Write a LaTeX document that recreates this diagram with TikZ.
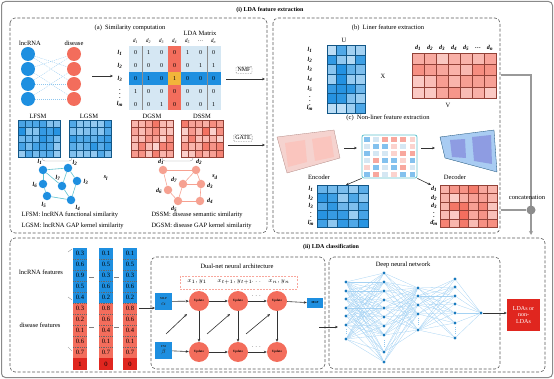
\documentclass[tikz,border=0pt]{standalone}
\usepackage{fontspec}
\setmainfont{Liberation Serif}
\usepackage{amsmath}
\usetikzlibrary{arrows.meta,positioning,calc}

\definecolor{ldablue}{HTML}{1E8FE0}
\definecolor{ldared}{HTML}{F36D5C}
\definecolor{ldapale}{HTML}{D5E7F3}
\definecolor{ldayellow}{HTML}{F2B53A}
\definecolor{ldadark}{HTML}{E0261F}
\definecolor{ldasalmon}{HTML}{F6A191}
\definecolor{ldateal}{HTML}{5EC2CE}
\definecolor{framegray}{HTML}{8A8A8A}
\definecolor{pinkenc}{HTML}{F5D3CF}
\definecolor{bluedec}{HTML}{A9CCF2}
\definecolor{violetdec}{HTML}{8E9CE2}

\newcommand{\lbl}[2]{#1\textsubscript{#2}}

\tikzset{
  ttl/.style={font=\bfseries\fontsize{6}{7}\selectfont},
  sub/.style={font=\fontsize{6.5}{7}\selectfont},
  dashbox/.style={draw=black!65, dash pattern=on 3pt off 1.8pt, line width=0.6pt, rounded corners=5pt},
  arr/.style={-{Stealth[length=3pt,width=2.6pt]}, line width=0.6pt, black!80},
  lab/.style={font=\fontsize{6}{6}\selectfont\bfseries\itshape, inner sep=0.5pt},
  cellnum/.style={font=\fontsize{6}{7}\selectfont, inner sep=0},
  bip/.style={circle, minimum size=14pt, inner sep=0},
  biline/.style={ldablue!50, dash pattern=on 1pt off 1pt, line width=0.35pt},
  gnode/.style={circle, minimum size=8.5pt, inner sep=0},
  opbox/.style={draw=black!55, dash pattern=on 1.5pt off 1pt, rounded corners=1pt, inner sep=1.5pt, font=\fontsize{6}{7}\selectfont},
  upd/.style={circle, fill=ldared, minimum size=20pt, inner sep=0, font=\bfseries\fontsize{3.2}{3}\selectfont},
  mlpbox/.style={fill=ldablue, minimum size=17pt, inner sep=0, align=center, text=black!85},
  dnn/.style={circle, fill=ldablue!85!black, minimum size=3.2pt, inner sep=0},
  nnline/.style={ldablue!40, line width=0.3pt},
  catline/.style={black!40, line width=1.6pt},
  vals/.style={font=\fontsize{6.5}{7}\selectfont, inner sep=0}
}

% random shaded grid: x0, y0, cols, rows, cell w, cell h, colour, low shade, spread
\newcommand{\heatmap}[9]{%
  \foreach \hi in {1,...,#3}{\foreach \hj in {1,...,#4}{%
    \pgfmathtruncatemacro{\hs}{#8+#9*rnd}%
    \filldraw[fill=#7!\hs, draw=#7!60!black, line width=0.15pt]
      ({#1+(\hi-1)*#5},{#2+(\hj-1)*#6}) rectangle ++(#5,#6);
  }}%
}

\begin{document}
\begin{tikzpicture}[x=1pt,y=-1pt,font=\fontsize{6}{7}\selectfont]
\useasboundingbox (0,0) rectangle (554,379);
\pgfmathsetseed{11}

% Frames
\draw[framegray,line width=1pt,rounded corners=4pt] (1.5,1.5) rectangle (552.5,377.5);
\node[ttl] (ttlI) at (270,10) {(i) LDA feature extraction};
\draw[dashbox] (10,18) rectangle (267,233);
\draw[dashbox] (273,18) rectangle (500,233);
\draw[dashbox] (10,238) rectangle (545,372);
\node[ttl] (ttlII) at (331,247) {(ii) LDA classification};

% (a) Similarity computation
\node[sub] (ttlA) at (130,28) {(a)\ \ Similarity computation};
\node[sub] (lncT) at (30,43) {lncRNA};
\node[sub] (disT) at (74,43) {disease};
\foreach \y [count=\k] in {54,69,84,99} {
  \node[bip,fill=ldablue] (lb\k) at (28,\y) {};
  \node[bip,fill=ldared] (db\k) at (74,\y) {};
}
\foreach \a/\b in {1/2,1/3,2/1,2/4,3/1,3/3,4/2,4/4}
  \draw[biline] (lb\a) -- (db\b);
\coordinate (bipOut) at (92,76);
\coordinate (matIn) at (113,76);
\draw[arr] (bipOut) -- (matIn);

% LDA matrix
\node[sub] (ldaT) at (200,33) {LDA Matrix};
\fill[ldapale] (129,46.5) rectangle (221,110.5);
\fill[ldablue] (129,72.5) rectangle (221,85);
\fill[ldared] (168,46.5) rectangle (181,110.5);
\fill[ldayellow] (168,72.5) rectangle (181,85);
\draw[black!45,line width=0.3pt] (142,46.5) -- (142,110.5) (207,46.5) -- (207,110.5);
\foreach \row [count=\r] in {{0,1,0,0,1,0,0},{0,0,0,0,0,1,1},{0,1,0,1,0,0,0},{1,0,0,0,0,0,0},{0,0,1,0,0,0,1}}
  \foreach \v [count=\c] in \row
    \node[cellnum] (m\r-\c) at ({122.5+13*\c},{40.2+12.8*\r}) {\v};
\foreach \t [count=\r] in {\lbl{l}{1},\lbl{l}{2},\lbl{l}{3},$\vdots$,\lbl{l}{m}}
  \node[lab] (ml\r) at (120,{40.2+12.8*\r}) {\t};
\foreach \t [count=\c] in {\lbl{d}{1},\lbl{d}{2},\lbl{d}{3},\lbl{d}{4},\lbl{d}{5},\ldots,\lbl{d}{n}}
  \node[lab,font=\fontsize{5.5}{6}\selectfont\itshape] (mh\c) at ({122.5+13*\c},41) {\t};

% NMF
\node[opbox] (nmf) at (244,70) {NMF};
\coordinate (nmfA) at (226,79);
\coordinate (nmfB) at (265,79);
\draw[arr] (nmfA) -- (nmfB);

% similarity matrices
\node[sub] (lfsmT) at (38,116) {LFSM};
\node[sub] (lgsmT) at (89,116) {LGSM};
\node[sub] (dgsmT) at (152,116) {DGSM};
\node[sub] (dssmT) at (202,116) {DSSM};
\heatmap{18}{120}{6}{5}{7}{7.4}{ldablue}{45}{55}
\heatmap{69}{120}{6}{5}{7}{7.4}{ldablue}{45}{55}
\heatmap{131}{120}{6}{5}{7}{7.4}{ldared}{30}{70}
\heatmap{181}{120}{6}{5}{7}{7.4}{ldared}{30}{70}
\draw[black!40,line width=0.4pt,rounded corners=3pt] (42,157) -- (42,161) -- (72,161) -- (72,157);
\draw[black!40,line width=0.4pt,rounded corners=3pt] (162,157) -- (162,161) -- (193,161) -- (193,157);

% GATE
\node[opbox] (gate) at (243,138) {GATE};
\coordinate (gateA) at (228,145);
\coordinate (gateB) at (265,145);
\draw[arr] (gateA) -- (gateB);

% lncRNA graph
\foreach \n/\x/\y in {1/43/170,2/68/168,3/77/181,4/71/200,5/47/196,6/43/184,7/62/186}
  \node[gnode,fill=ldablue] (gl\n) at (\x,\y) {};
\foreach \a/\b in {1/2,1/6,1/7,2/7,2/3,3/4,7/4,6/5,5/4}
  \draw[ldateal,line width=0.6pt] (gl\a) -- (gl\b);
\foreach \n/\x/\y in {1/40/162,2/75/163,3/86/182,4/78/208,5/44/205,6/35/185,7/58/178}
  \node[lab] (tl\n) at (\x,\y) {\lbl{l}{\n}};
\node[lab] (sl) at (106,178) {\lbl{s}{l}};

% disease graph
\foreach \n/\x/\y in {1/163/170,2/196/170,3/201/184,4/200/201,5/178/201,6/168/190,7/183/184}
  \node[gnode,fill=ldasalmon] (gd\n) at (\x,\y) {};
\foreach \a/\b in {1/2,1/6,2/7,2/3,7/3,7/5,6/5,5/4,3/4}
  \draw[ldasalmon,line width=0.6pt] (gd\a) -- (gd\b);
\foreach \n/\x/\y in {1/161/162,2/199/162,3/210/186,4/210/201,5/174/209,6/159/191,7/174/180}
  \node[lab] (td\n) at (\x,\y) {\lbl{d}{\n}};
\node[lab] (sd) at (215,177) {\lbl{s}{d}};

% legends
\node[sub,anchor=west] (lgA) at (18,215) {LFSM: lncRNA functional similarity};
\node[sub,anchor=west] (lgB) at (18,226) {LGSM: lncRNA GAP kernel similarity};
\node[sub,anchor=west] (lgC) at (148,215) {DSSM: disease semantic similarity};
\node[sub,anchor=west] (lgD) at (148,226) {DGSM: disease GAP kernel similarity};

% (b) Liner feature extraction
\node[sub] (ttlB) at (388,28) {(b)\ \ Liner feature extraction};
\node[sub] (uT) at (344,40) {U};
\heatmap{327}{45}{4}{7}{9.5}{9.7}{ldablue}{30}{70}
\foreach \t [count=\r] in {\lbl{l}{1},\lbl{l}{2},\lbl{l}{3},\lbl{l}{4},\lbl{l}{5},$\vdots$,\lbl{l}{m}}
  \node[lab] (ul\r) at (310,{45+9.7*(\r-0.5)}) {\t};
\node[sub] (xT) at (383,76) {X};
\pgfmathsetseed{5}
\heatmap{412}{53}{7}{4}{12}{11.25}{ldared}{35}{45}
\foreach \t [count=\c] in {\lbl{d}{1},\lbl{d}{2},\lbl{d}{3},\lbl{d}{4},\lbl{d}{5},\ldots,\lbl{d}{n}}
  \node[lab] (vh\c) at ({412+12*(\c-0.5)},48) {\t};
\node[sub] (vT) at (448,105) {V};

% (c) Non-liner feature extraction
\node[sub] (ttlC) at (388,118) {(c)\ \ Non-liner feature extraction};
% Encoder
\filldraw[fill=pinkenc, draw=ldared!50!black!60, line width=0.3pt] (277,137) -- (334,130) -- (340,158) -- (287,173) -- cycle;
\fill[ldared!40] (285,143) -- (305,140) -- (307,162) -- (288,167) -- cycle;
\fill[ldared!40] (312,139) -- (331,136) -- (334,157) -- (315,161) -- cycle;
\node[sub] (encT) at (319,177) {Encoder};
% latent
\node[draw=ldateal, line width=0.8pt, rounded corners=2pt, fill=white, minimum width=55pt, minimum height=43pt] (lat) at (389.5,156.5) {};
\foreach \i in {1,...,6}{\foreach \j in {1,...,6}{%
  \pgfmathtruncatemacro{\pick}{int(4*rnd)}%
  \ifcase\pick\def\cc{ldared!60}\or\def\cc{ldapale}\or\def\cc{ldablue!55}\or\def\cc{ldared!30}\fi
  \fill[\cc] ({364+9.1*(\i-1)},{137.5+6.9*(\j-1)}) rectangle ++(5.6,4.6);
}}
% Decoder
\filldraw[fill=bluedec, draw=ldablue!50!black, line width=0.3pt] (440,137) -- (494,130) -- (497,172) -- (445,158) -- cycle;
\fill[violetdec] (450,140) -- (465,139) -- (466,158) -- (452,157) -- cycle;
\fill[violetdec] (472,137) -- (491,135) -- (492,164) -- (474,161) -- cycle;
\node[sub] (decT) at (455,177) {Decoder};
\coordinate (encOut) at (344,148);
\coordinate (latIn) at (357,148);
\coordinate (latOut) at (421,148);
\coordinate (decIn) at (435,148);
\draw[arr] (encOut) -- (latIn);
\draw[arr] (latOut) -- (decIn);
\coordinate (ulEnd) at (346,185);
\coordinate (urEnd) at (431,185);
\draw[arr] (lat.south west) -- (ulEnd);
\draw[arr] (lat.south east) -- (urEnd);
% embeddings
\heatmap{317}{185}{5}{5}{10.2}{8.4}{ldablue}{40}{60}
\foreach \t [count=\r] in {\lbl{l}{1},\lbl{l}{2},\lbl{l}{3},$\vdots$,\lbl{l}{m}}
  \node[lab] (cl\r) at (311,{185+8.4*(\r-0.5)}) {\t};
\heatmap{440}{185}{6}{5}{9.5}{8.4}{ldared}{35}{65}
\foreach \t [count=\r] in {\lbl{d}{1},\lbl{d}{2},\lbl{d}{3},$\vdots$,\lbl{d}{m}}
  \node[lab] (cd\r) at (434,{185+8.4*(\r-0.5)}) {\t};

% concatenation
\coordinate (catA) at (501,75);
\coordinate (catB) at (531,75);
\coordinate (catC) at (501,210);
\coordinate (catEnd) at (531,235);
\draw[catline,-{Stealth[length=4pt,width=4pt]}] (catA) -- (catB) -- (catEnd);
\node[circle, fill=black!45, minimum size=9pt, inner sep=0] (catJ) at (531,210) {};
\draw[catline] (catC) -- (catJ);
\node[sub] (catT) at (527,197) {concatenation};

% (ii) features
\node[sub] (lfT) at (41,272) {lncRNA features};
\node[sub] (dfT) at (40,325) {disease features};
\foreach \x/\vl/\lst [count=\c] in {73/{0.3,0.6,0.9,0.5,0.4,0.3,0.2,0.1,0.6,0.7}/1,
    99/{0.1,0.5,0.3,0.6,0.2,0.8,0.6,0.4,0.1,0.7}/0,
    123/{0.1,0.5,0.3,0.6,0.2,0.8,0.6,0.4,0.1,0.7}/0} {
  \fill[ldablue] (\x,248) rectangle ++(14,55);
  \fill[ldared] (\x,303) rectangle ++(14,55);
  \fill[ldadark] (\x,358) rectangle ++(14,12);
  \foreach \k in {1,...,9}
    \draw[black!60,dash pattern=on 1pt off 0.8pt,line width=0.3pt] (\x,{248+11*\k}) -- ++(14,0);
  \foreach \v [count=\k] in \vl
    \node[vals] (f\c-\k) at ({\x+7},{253.5+11*(\k-1)}) {\v};
  \node[vals] (f\c-11) at ({\x+7},364) {\lst};
}
\foreach \x in {89,114} {
  \draw[black!50,line width=0.4pt] (\x,277) -- ++(5,0);
  \draw[black!50,line width=0.4pt] (\x,327) -- ++(5,0);
}
\draw[black!50,line width=0.3pt] (72,249) -- (68,252) (68,297) -- (72,300) (68,347) -- (72,351);
\coordinate (featOut) at (139,308);
\coordinate (dualIn) at (155,308);
\draw[arr] (featOut) -- (dualIn);

% Dual-net
\draw[dashbox] (151,257) rectangle (325,369);
\node[sub] (dualT) at (237,266) {Dual-net neural architecture};
\draw[ldared!60,dash pattern=on 2pt off 1.2pt,line width=0.5pt] (180,276) rectangle (297,289);
\node[font=\fontsize{6}{7}\selectfont,inner sep=0] (xy1) at (197,282) {$x_1,y_1$};
\node[font=\fontsize{6}{7}\selectfont,inner sep=0] (xy2) at (235,282) {$x_{t+1},y_{t+1}$};
\node[font=\fontsize{6}{7}\selectfont,inner sep=0] (xy3) at (257,282) {$\cdots$};
\node[font=\fontsize{6}{7}\selectfont,inner sep=0] (xy4) at (279,282) {$x_n,y_n$};
\node[mlpbox] (mlpA) at (163.5,301.5) {{\fontsize{3}{3}\selectfont\bfseries MLP}\\[-1pt]$\alpha$};
\node[mlpbox] (fmB) at (163.5,350.5) {{\fontsize{3}{3}\selectfont\bfseries FM}\\[-1pt]$\beta$};
\foreach \i/\x in {1/199,2/238,3/277} {
  \node[upd] (up\i) at (\x,301) {Update};
  \node[upd] (dn\i) at (\x,352) {Update};
  \draw[arr] (up\i) -- (dn\i);
}
\draw[arr] (mlpA) -- (up1);
\draw[arr] (up1) -- (up2);
\draw[arr] (up2) -- (up3);
\draw[arr] (fmB) -- (dn1);
\draw[arr] (dn1) -- (dn2);
\draw[arr] (dn2) -- (dn3);
\node (dotsU) at (257,296) {$\cdots$};
\node (dotsD) at (257,347) {$\cdots$};
\foreach \a/\b [count=\k] in {166/187,207/230,246/270} {
  \coordinate (dgA\k) at (\a,334);
  \coordinate (dgB\k) at (\b,314);
  \draw[arr] (dgA\k) -- (dgB\k);
}
\node[fill=ldablue, minimum width=16pt, minimum height=10pt, inner sep=0, font=\bfseries\fontsize{3}{3}\selectfont] (mlpOut) at (315,303) {MLP};
\draw[arr] (up3) -- (mlpOut);
\coordinate (dualOut) at (319,327);
\coordinate (dnnIn) at (338,327);
\draw[arr] (dualOut) -- (dnnIn);

% Deep neural network
\draw[dashbox] (329,257) rectangle (500,369);
\node[sub] (dnnT) at (403,265) {Deep neural network};
\foreach \y [count=\k] in {282,291,299,308,316,325,339} \node[dnn] (na\k) at (346,\y) {};
\foreach \y [count=\k] in {273,282,291,300,308,317,326,335,352,362} \node[dnn] (nb\k) at (384,\y) {};
\foreach \y [count=\k] in {288,296,305,314,330} \node[dnn] (nc\k) at (418,\y) {};
\foreach \y [count=\k] in {279,287,296,304,313,323,338} \node[dnn] (nd\k) at (455,\y) {};
\node[dnn] (nnout) at (481,313) {};
\foreach \a in {1,...,7} \foreach \b in {1,...,10} {
  \pgfmathtruncatemacro{\keep}{mod(\a*\b+\a+2*\b,3)}
  \ifnum\keep=0\relax\else\draw[nnline] (na\a) -- (nb\b);\fi
}
\foreach \a in {1,...,10} \foreach \b in {1,...,5} {
  \pgfmathtruncatemacro{\keep}{mod(\a*\b+2*\a+\b,3)}
  \ifnum\keep=0\relax\else\draw[nnline] (nb\a) -- (nc\b);\fi
}
\foreach \a in {1,...,5} \foreach \b in {1,...,7} {
  \pgfmathtruncatemacro{\keep}{mod(\a*\b+\a+\b,3)}
  \ifnum\keep=0\relax\else\draw[nnline] (nc\a) -- (nd\b);\fi
}
\foreach \a in {1,...,7} \draw[nnline] (nd\a) -- (nnout);
\draw[ldablue!50,dash pattern=on 1pt off 1pt,line width=0.4pt]
  (346,329) -- (346,335) (384,340) -- (384,348) (418,318) -- (418,326) (455,327) -- (455,334);

% Result
\node[fill=ldadark, text=white, minimum width=33pt, minimum height=32pt, inner sep=0, align=center, font=\fontsize{6}{6.5}\selectfont] (res) at (523.5,315) {LDAs or\\non-\\LDAs};
\draw[arr] (nnout) -- (nnout -| res.west);

\end{tikzpicture}
\end{document}
